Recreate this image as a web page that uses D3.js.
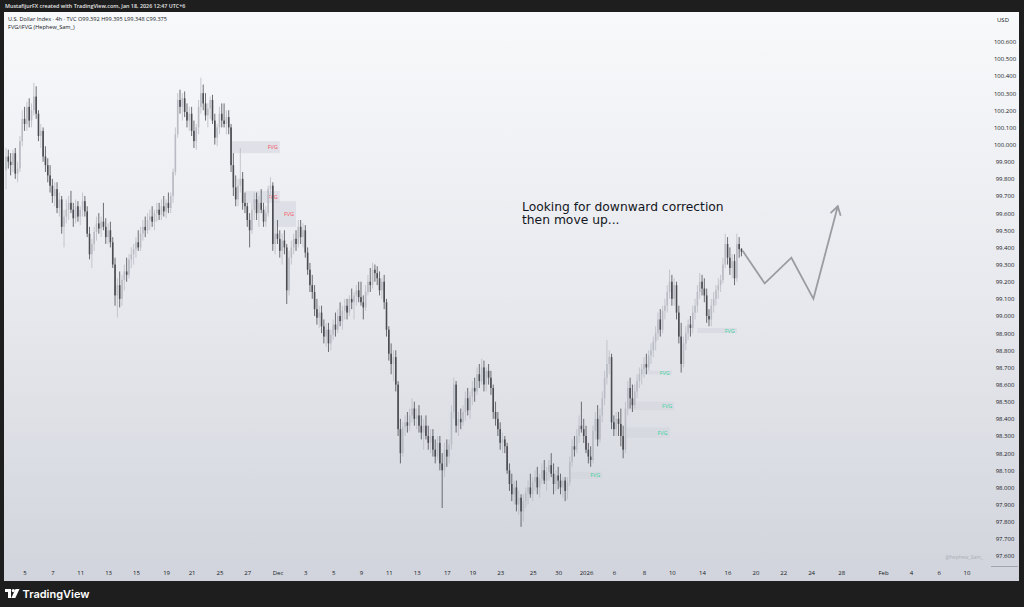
<!DOCTYPE html>
<html>
<head>
<meta charset="utf-8">
<script src="https://cdn.jsdelivr.net/npm/d3@7"></script>
<style>
body { margin: 0; background: #1e1e1e; }
#container { width: 1024px; height: 607px; }
svg { display: block; font-family: "Open Sans", "Noto Sans", sans-serif; }
</style>
</head>
<body>
<div id="container"></div>
<script>
// 4h candles [open, high, low, close]
var novCandles = [
  [99.85,99.98,99.74,99.93],[99.93,99.97,99.86,99.90],[99.90,99.95,99.82,99.88],[99.88,99.97,99.84,99.95],
  [99.95,99.98,99.80,99.83],[99.83,99.90,99.78,99.86],[99.86,100.05,99.84,100.02],[100.02,100.20,99.99,100.15],
  [100.15,100.22,100.08,100.12],[100.12,100.25,100.08,100.22],[100.22,100.27,100.10,100.14],[100.14,100.24,100.10,100.20],
  [100.20,100.36,100.17,100.28],[100.28,100.34,100.15,100.18],[100.18,100.20,100.02,100.05],[100.05,100.12,99.98,100.08],
  [100.08,100.10,99.90,99.93],[99.93,99.99,99.84,99.88],[99.88,99.92,99.78,99.82],[99.82,99.88,99.72,99.76],
  [99.76,99.80,99.66,99.70],[99.70,99.78,99.64,99.74],[99.74,99.78,99.60,99.63],[99.63,99.72,99.58,99.68],
  [99.68,99.70,99.48,99.52],[99.52,99.62,99.40,99.58],[99.58,99.68,99.54,99.62],[99.62,99.70,99.56,99.66],
  [99.66,99.73,99.60,99.62],[99.62,99.66,99.52,99.57],[99.57,99.68,99.54,99.64],
  [99.64,99.67,99.55,99.58],[99.58,99.64,99.53,99.62],[99.62,99.72,99.58,99.67],[99.67,99.70,99.58,99.61],
  [99.61,99.64,99.46,99.48],[99.48,99.52,99.33,99.36],[99.36,99.45,99.28,99.42],[99.42,99.52,99.38,99.49],
  [99.49,99.58,99.44,99.54],[99.54,99.60,99.48,99.51],[99.51,99.58,99.46,99.55],
  [99.55,99.66,99.50,99.52],[99.52,99.57,99.42,99.46],[99.46,99.54,99.42,99.50],[99.50,99.55,99.40,99.43],
  [99.43,99.46,99.28,99.30],[99.30,99.34,99.06,99.12],[99.12,99.22,98.99,99.18],[99.18,99.26,99.05,99.10],
  [99.10,99.24,99.06,99.21],[99.21,99.30,99.15,99.26],[99.26,99.34,99.20,99.24],[99.24,99.36,99.22,99.33],
  [99.33,99.40,99.28,99.36],[99.36,99.42,99.30,99.39],[99.39,99.46,99.34,99.43],[99.43,99.50,99.38,99.40],
  [99.40,99.52,99.38,99.48],[99.48,99.56,99.44,99.52],[99.52,99.58,99.46,99.50],[99.50,99.60,99.48,99.56],
  [99.56,99.62,99.50,99.58],[99.58,99.64,99.52,99.55],[99.55,99.62,99.50,99.60],[99.60,99.66,99.55,99.62],
  [99.62,99.66,99.56,99.59],[99.59,99.68,99.56,99.64],[99.64,99.70,99.58,99.61],[99.61,99.68,99.57,99.66],
  [99.66,99.72,99.60,99.63],[99.63,99.72,99.60,99.70],[99.70,99.86,99.66,99.84],[99.84,100.10,99.82,100.06],
  [100.06,100.30,100.04,100.26],[100.26,100.32,100.18,100.22],[100.22,100.30,100.14,100.27],[100.27,100.31,100.16,100.19],
  [100.19,100.24,100.10,100.14],[100.14,100.22,100.08,100.18],[100.18,100.22,100.05,100.08],[100.08,100.14,99.98,100.02],
  [100.02,100.12,99.97,100.10],[100.10,100.26,100.06,100.22],[100.22,100.39,100.18,100.30],[100.30,100.35,100.20,100.24],
  [100.24,100.30,100.14,100.17],[100.17,100.24,100.10,100.21],[100.21,100.28,100.15,100.26],[100.26,100.29,100.12,100.14],
  [100.14,100.18,100.00,100.04],[100.04,100.12,99.99,100.10],[100.10,100.22,100.06,100.18],[100.18,100.24,100.10,100.14],
  [100.14,100.24,100.10,100.12],[100.12,100.20,100.06,100.16],[100.16,100.20,100.06,100.10],
  [100.10,100.12,99.84,99.88],[99.88,99.95,99.70,99.75],[99.75,99.82,99.64,99.68],[99.68,99.80,99.64,99.76],
  [99.76,99.98,99.72,99.80],[99.80,99.84,99.62,99.66],[99.66,99.72,99.60,99.64],[99.64,99.66,99.52,99.56],
  [99.56,99.60,99.40,99.50],[99.50,99.66,99.48,99.62],[99.62,99.72,99.56,99.68],[99.68,99.72,99.56,99.60],
  [99.60,99.70,99.52,99.66],[99.66,99.74,99.60,99.62],[99.62,99.66,99.52,99.55],[99.55,99.64,99.52,99.60],
  [99.60,99.76,99.58,99.74],[99.74,99.81,99.70,99.76]
];
var decCandles = [
  [99.76,99.78,99.38,99.42],[99.42,99.52,99.36,99.48],[99.48,99.56,99.42,99.45],[99.45,99.50,99.34,99.38],
  [99.38,99.48,99.30,99.44],[99.44,99.50,99.36,99.40],[99.40,99.42,99.07,99.15],[99.15,99.38,99.12,99.34],
  [99.34,99.44,99.30,99.40],[99.40,99.48,99.36,99.45],[99.45,99.50,99.38,99.42],[99.42,99.56,99.40,99.52],
  [99.52,99.56,99.42,99.46],[99.46,99.54,99.40,99.50],[99.50,99.53,99.34,99.37],[99.37,99.40,99.24,99.27],
  [99.27,99.31,99.14,99.18],[99.18,99.24,99.10,99.14],[99.14,99.18,99.00,99.04],[99.04,99.10,98.95,98.99],
  [98.99,99.06,98.93,99.02],[99.02,99.06,98.90,98.94],[98.94,98.98,98.84,98.88],[98.88,98.96,98.82,98.92],
  [98.92,98.96,98.79,98.84],[98.84,98.92,98.80,98.89],[98.89,98.98,98.86,98.95],[98.95,99.02,98.88,98.92],
  [98.92,99.04,98.90,99.00],[99.00,99.08,98.94,98.97],[98.97,99.06,98.92,99.03],[99.03,99.10,98.98,99.06],
  [99.06,99.10,98.98,99.02],[99.02,99.12,99.00,99.10],[99.10,99.16,99.04,99.08],[99.08,99.14,98.98,99.12],
  [99.12,99.18,99.06,99.15],[99.15,99.20,99.08,99.11],[99.11,99.20,99.06,99.08],
  [99.08,99.12,98.98,99.05],[99.05,99.18,99.03,99.14],[99.14,99.24,99.12,99.20],[99.20,99.28,99.14,99.18],
  [99.18,99.31,99.16,99.27],[99.27,99.30,99.20,99.25],[99.25,99.29,99.18,99.22],[99.22,99.26,99.12,99.15],
  [99.15,99.22,99.10,99.20],[99.20,99.24,99.04,99.08],[99.08,99.10,98.88,98.92],[98.92,98.94,98.74,98.78],
  [98.78,98.84,98.66,98.72],[98.72,98.80,98.62,98.76],[98.76,98.80,98.56,98.60],[98.60,98.62,98.30,98.34],
  [98.34,98.40,98.14,98.20],[98.20,98.38,98.18,98.35],[98.35,98.42,98.30,98.38],[98.38,98.44,98.32,98.36],
  [98.36,98.46,98.33,98.42],[98.42,98.52,98.38,98.46],[98.46,98.50,98.36,98.40],[98.40,98.46,98.34,98.42],
  [98.42,98.48,98.32,98.36],[98.36,98.42,98.28,98.32],[98.32,98.40,98.22,98.36],[98.36,98.42,98.28,98.30],
  [98.30,98.36,98.22,98.26],[98.26,98.34,98.20,98.30],[98.30,98.34,98.18,98.22],[98.22,98.28,98.14,98.18],
  [98.18,98.30,98.16,98.26],[98.26,98.30,98.10,98.14],[98.14,98.20,97.88,98.10],[98.10,98.26,98.06,98.22],
  [98.22,98.28,98.12,98.18],[98.18,98.28,98.14,98.25],[98.25,98.48,98.22,98.44],[98.44,98.64,98.40,98.60],
  [98.60,98.62,98.32,98.36],[98.36,98.44,98.30,98.40],[98.40,98.46,98.34,98.38],[98.38,98.48,98.36,98.44],
  [98.44,98.56,98.39,98.52],[98.52,98.58,98.42,98.45],[98.45,98.56,98.40,98.53],
  [98.53,98.62,98.48,98.58],[98.58,98.64,98.50,98.56],[98.56,98.70,98.54,98.66],[98.66,98.72,98.58,98.62],
  [98.62,98.75,98.60,98.70],[98.70,98.74,98.56,98.60],[98.60,98.70,98.56,98.68],[98.68,98.72,98.60,98.64],
  [98.64,98.68,98.54,98.58],[98.58,98.60,98.40,98.44],[98.44,98.50,98.36,98.40],[98.40,98.44,98.30,98.34],
  [98.34,98.38,98.22,98.26],[98.26,98.32,98.20,98.28],[98.28,98.30,98.20,98.24],[98.24,98.26,98.08,98.10],
  [98.10,98.14,97.98,98.02],[98.02,98.08,97.92,97.96],[97.96,98.04,97.90,98.00],[98.00,98.04,97.86,97.90],
  [97.90,97.98,97.84,97.94],[97.94,97.96,97.77,97.86],[97.86,97.96,97.80,97.92],[97.92,98.00,97.88,97.97],
  [97.97,98.04,97.90,98.00],[98.00,98.08,97.94,97.96],[97.96,98.06,97.92,98.03],[98.03,98.10,97.98,98.06],
  [98.06,98.12,97.96,98.00],[98.00,98.08,97.94,98.05],[98.05,98.14,98.02,98.10],[98.10,98.16,98.02,98.04],
  [98.04,98.12,97.98,98.09],[98.09,98.16,98.04,98.13],[98.13,98.20,98.06,98.08],[98.08,98.14,97.96,98.02],
  [98.02,98.10,97.98,98.07],[98.07,98.12,97.99,98.04],[98.04,98.08,97.96,98.00],[98.00,98.06,97.94,98.04]
];
var janCandles = [
  [98.04,98.06,97.92,97.98],[97.98,98.06,97.93,98.03],[98.03,98.18,98.01,98.15],[98.15,98.28,98.12,98.24],
  [98.24,98.30,98.18,98.22],[98.22,98.34,98.20,98.30],[98.30,98.42,98.26,98.36],[98.36,98.50,98.32,98.34],
  [98.34,98.40,98.26,98.30],[98.30,98.36,98.20,98.22],[98.22,98.26,98.14,98.18],[98.18,98.24,98.12,98.16],
  [98.16,98.36,98.14,98.33],[98.33,98.44,98.28,98.40],[98.40,98.48,98.24,98.28],[98.28,98.46,98.26,98.42],
  [98.42,98.56,98.38,98.52],[98.52,98.68,98.48,98.64],[98.64,98.86,98.60,98.72],[98.72,98.80,98.66,98.76],
  [98.76,98.78,98.34,98.38],[98.38,98.42,98.30,98.34],[98.34,98.44,98.30,98.40],[98.40,98.44,98.30,98.37],
  [98.37,98.46,98.24,98.30],[98.30,98.36,98.17,98.22],
  [98.22,98.50,98.20,98.46],[98.46,98.62,98.42,98.58],[98.58,98.64,98.46,98.52],[98.52,98.60,98.44,98.48],
  [98.48,98.60,98.46,98.56],[98.56,98.66,98.52,98.62],[98.62,98.70,98.58,98.66],[98.66,98.72,98.60,98.69],
  [98.69,98.76,98.64,98.72],[98.72,98.78,98.66,98.70],[98.70,98.80,98.68,98.77],[98.77,98.84,98.72,98.80],
  [98.80,98.88,98.76,98.85],[98.85,98.94,98.80,98.90],[98.90,99.02,98.86,98.98],[98.98,99.04,98.88,98.92],
  [98.92,99.06,98.90,99.03],[99.03,99.10,98.98,99.06],[99.06,99.18,99.02,99.14],[99.14,99.27,99.10,99.20],
  [99.20,99.24,99.06,99.10],[99.10,99.22,99.06,99.18],[99.18,99.20,98.98,99.02],[99.02,99.06,98.84,98.88],
  [98.88,98.96,98.67,98.72],[98.72,98.88,98.70,98.84],[98.84,98.94,98.80,98.90],[98.90,98.98,98.86,98.95],
  [98.95,99.00,98.88,98.93],[98.93,99.06,98.90,99.02],[99.02,99.10,98.98,99.06],[99.06,99.18,99.02,99.14],
  [99.14,99.25,99.10,99.20],[99.20,99.24,99.12,99.16],[99.16,99.22,99.08,99.12],[99.12,99.16,98.96,99.00],
  [99.00,99.04,98.94,98.98],[98.98,99.10,98.94,99.06],[99.06,99.14,99.02,99.10],[99.10,99.18,99.06,99.15],
  [99.15,99.22,99.10,99.18],[99.18,99.24,99.14,99.21],[99.21,99.34,99.19,99.30],[99.30,99.48,99.28,99.42],
  [99.42,99.46,99.30,99.34],[99.34,99.40,99.24,99.28],[99.28,99.36,99.22,99.32],[99.32,99.36,99.18,99.22],
  [99.22,99.48,99.20,99.42],[99.42,99.46,99.34,99.39],[99.392,99.395,99.348,99.375]
];

// price scale
var priceTicks = d3.range(0, 31).map(function(i) { return 97.6 + i * 0.1; });

// time scale labels, placed at bar index
var timeLabels = ["5","7","11","13","15","19","21","25","27","Dec","3","5","9","11","13","17","19","23","25","30",
  "2026","6","8","10","14","16","20","22","24","28","Feb","4","6","10"];
var timeIdx = [8,20,32,44,56,69,80,92,104,117,129,141,153,165,177,190,201,213,227,238,
  250,262,275,287,300,311,323,335,347,360,378,390,402,414];

// FVG zones: [startIdx, endIdx, top, bottom]
var bearFvg = [[97,118,100.02,99.95],[103,118,99.73,99.66],[115,125,99.67,99.52]];
var bullFvg = [[243,257,98.09,98.05],[267,286,98.35,98.29],[268,288,98.50,98.45],[275,287,98.68,98.66],[298,315,98.93,98.90]];

// projected path drawn by the author
var projIdx = [317.5, 327, 338.5, 348, 358.5];
var projPrice = [99.38, 99.19, 99.34, 99.10, 99.64];

var noteLines = ["Looking for downward correction", "then move up..."];

var candles = novCandles.concat(decCandles, janCandles);

var container = document.getElementById("container");
var width = 1024, height = 607;

var svg = d3.select(container).append("svg")
  .attr("width", width)
  .attr("height", height);

var defs = svg.append("defs");
var grad = defs.append("linearGradient").attr("id", "bg")
  .attr("x1", 0).attr("y1", 0).attr("x2", 0).attr("y2", 1);
grad.append("stop").attr("offset", "0%").attr("stop-color", "#f8f9fb");
grad.append("stop").attr("offset", "50%").attr("stop-color", "#e8e9ee");
grad.append("stop").attr("offset", "100%").attr("stop-color", "#d1d4dc");

// dark frame
svg.append("rect").attr("width", width).attr("height", height).attr("fill", "#1e1e1e");
svg.append("text").attr("x", 5).attr("y", 8)
  .attr("fill", "#e6e6e6").style("font-size", "5.4px").style("font-weight", "600")
  .text("MustafijurFX created with TradingView.com, Jan 18, 2026 12:47 UTC+6");

// chart panel
svg.append("rect").attr("x", 4).attr("y", 12).attr("width", 1015).attr("height", 569)
  .attr("fill", "url(#bg)");

var x = d3.scaleLinear().domain([0, 318]).range([6, 743.8]);
var y = d3.scaleLinear().domain([97.6, 100.6]).range([556, 41.7]);
var bw = x(1) - x(0);

var clip = defs.append("clipPath").attr("id", "plot");
clip.append("rect").attr("x", 4).attr("y", 12).attr("width", 961).attr("height", 551);

var plot = svg.append("g").attr("clip-path", "url(#plot)");

// FVG boxes
function fvg(list, color) {
  var g = plot.append("g");
  g.selectAll("rect").data(list).enter().append("rect")
    .attr("x", function(d) { return x(d[0]); })
    .attr("y", function(d) { return y(d[2]); })
    .attr("width", function(d) { return x(d[1]) - x(d[0]); })
    .attr("height", function(d) { return y(d[3]) - y(d[2]); })
    .attr("fill", "#d1d4dc").attr("fill-opacity", 0.55);
  g.selectAll("text").data(list).enter().append("text")
    .attr("x", function(d) { return x(d[1]) - 2; })
    .attr("y", function(d) { return (y(d[2]) + y(d[3])) / 2 + 2; })
    .attr("text-anchor", "end")
    .attr("fill", color).style("font-size", "5.5px")
    .text("FVG");
}
fvg(bearFvg, "#f7525f");
fvg(bullFvg, "#3bd4a0");

// candles
var up = "#b9bcc4", down = "#4a4c52";
var candle = plot.append("g").selectAll("g").data(candles).enter().append("g");
candle.append("line")
  .attr("x1", function(d, i) { return x(i); })
  .attr("x2", function(d, i) { return x(i); })
  .attr("y1", function(d) { return y(d[1]); })
  .attr("y2", function(d) { return y(d[2]); })
  .attr("stroke", function(d) { return d[3] >= d[0] ? up : down; })
  .attr("stroke-width", 0.8);
candle.append("rect")
  .attr("x", function(d, i) { return x(i) - bw * 0.34; })
  .attr("width", bw * 0.68)
  .attr("y", function(d) { return y(Math.max(d[0], d[3])); })
  .attr("height", function(d) { return Math.max(0.8, Math.abs(y(d[0]) - y(d[3]))); })
  .attr("fill", function(d) { return d[3] >= d[0] ? up : down; });

// projection
var proj = projIdx.map(function(v, i) { return [v, projPrice[i]]; });
var line = d3.line().x(function(d) { return x(d[0]); }).y(function(d) { return y(d[1]); });
plot.append("path").attr("d", line(proj))
  .attr("fill", "none").attr("stroke", "#9a9ca3").attr("stroke-width", 1.8)
  .attr("stroke-linejoin", "miter");
var tip = proj[proj.length - 1], prev = proj[proj.length - 2];
var ang = Math.atan2(y(tip[1]) - y(prev[1]), x(tip[0]) - x(prev[0]));
var hl = 10;
var px = x(tip[0]), py = y(tip[1]);
plot.append("path")
  .attr("d", "M" + (px - hl * Math.cos(ang - 0.55)) + "," + (py - hl * Math.sin(ang - 0.55)) +
    "L" + px + "," + py +
    "L" + (px - hl * Math.cos(ang + 0.55)) + "," + (py - hl * Math.sin(ang + 0.55)))
  .attr("fill", "none").attr("stroke", "#9a9ca3").attr("stroke-width", 1.8);

// note
var note = svg.append("text")
  .attr("fill", "#131722")
  .style("font-size", "12.3px")
  .style("font-family", "'DejaVu Sans', sans-serif");
note.selectAll("tspan").data(noteLines).enter().append("tspan")
  .attr("x", 522)
  .attr("y", function(d, i) { return 211 + i * 13.2; })
  .text(function(d) { return d; });

// legend top-left
svg.append("text").attr("x", 8).attr("y", 21).attr("fill", "#131722").style("font-size", "5.6px")
  .text("U.S. Dollar Index \u00b7 4h \u00b7 TVC  O99.392 H99.395 L99.348 C99.375");
svg.append("text").attr("x", 8).attr("y", 29).attr("fill", "#131722").style("font-size", "5.6px")
  .text("FVG/iFVG (Hephew_Sam_)");

// price axis
var yAxis = d3.axisRight(y).tickValues(priceTicks).tickSize(0).tickPadding(0)
  .tickFormat(d3.format(".3f"));
var ya = svg.append("g").attr("transform", "translate(1005,0)").call(yAxis);
ya.select(".domain").remove();
ya.selectAll("text").attr("text-anchor", "middle").attr("fill", "#131722")
  .style("font-size", "6px").style("font-family", "'Open Sans', sans-serif");
svg.append("text").attr("x", 1003).attr("y", 22).attr("text-anchor", "middle")
  .attr("fill", "#131722").style("font-size", "6px").text("USD");
svg.append("line").attr("x1", 991).attr("x2", 1018).attr("y1", 566.5).attr("y2", 566.5)
  .attr("stroke", "#9598a1").attr("stroke-width", 0.8);

// time axis
var xAxis = d3.axisBottom(x).tickValues(timeIdx).tickSize(0).tickPadding(0)
  .tickFormat(function(d, i) { return timeLabels[i]; });
var xa = svg.append("g").attr("transform", "translate(0,571)").call(xAxis);
xa.select(".domain").remove();
xa.selectAll("text").attr("fill", "#131722").style("font-size", "6px")
  .style("font-family", "'Open Sans', sans-serif");

// watermark
svg.append("text").attr("x", 983).attr("y", 559).attr("text-anchor", "end")
  .attr("fill", "#9598a1").attr("fill-opacity", 0.7).style("font-size", "5px")
  .text("@hephew_Sam_");

// TradingView footer
var foot = svg.append("g").attr("transform", "translate(5,588)");
foot.append("path").attr("d", "M0,1 h6 v9 h-3 v-6 h-3 z").attr("fill", "#ffffff");
foot.append("circle").attr("cx", 8.3).attr("cy", 2.6).attr("r", 1.6).attr("fill", "#ffffff");
foot.append("path").attr("d", "M10.5,1 h4 l-4.2,9 h-4 z").attr("fill", "#ffffff");
foot.append("text").attr("x", 17.5).attr("y", 9.5).attr("fill", "#ffffff")
  .style("font-size", "11px").style("font-weight", "600")
  .style("font-family", "'Inter', 'Open Sans', sans-serif")
  .text("TradingView");
</script>
</body>
</html>
